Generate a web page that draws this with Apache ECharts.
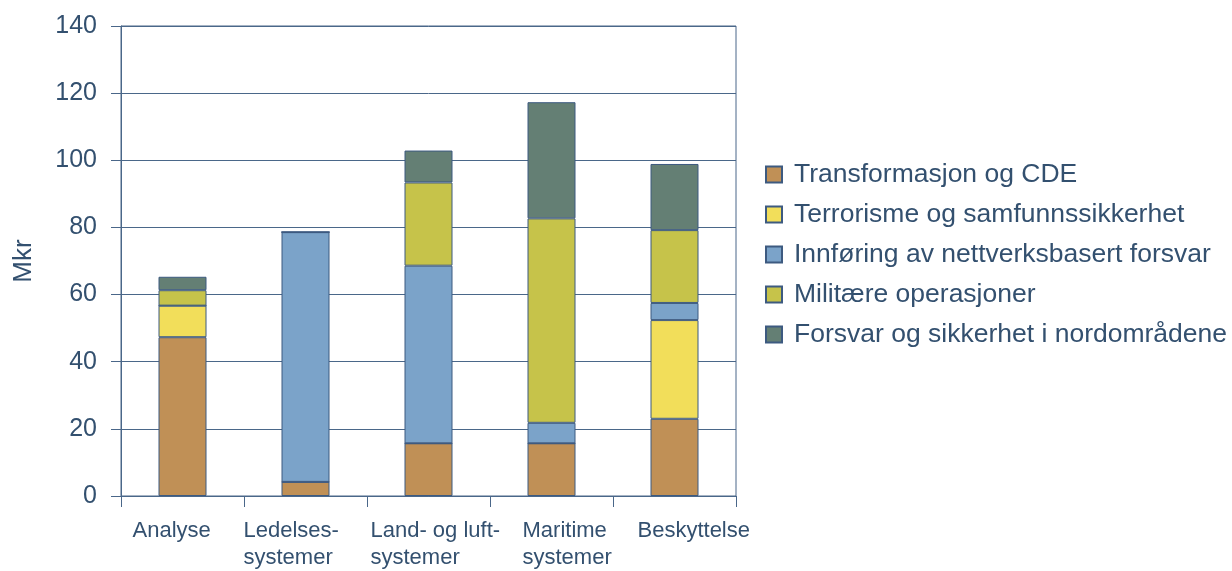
<!DOCTYPE html>
<html>
<head>
<meta charset="utf-8">
<script src="https://cdn.jsdelivr.net/npm/echarts@6/dist/echarts.min.js"></script>
<style>
  html, body { margin: 0; padding: 0; background: #ffffff; }
  #chart { width: 1232px; height: 571px; }
</style>
</head>
<body>
<div id="chart"></div>
<script>
// Categories (x axis) and stacked segment values, in Mkr
const categories = ['Analyse', 'Ledelses-\nsystemer', 'Land- og luft-\nsystemer', 'Maritime\nsystemer', 'Beskyttelse'];
const seriesNames = [
  'Transformasjon og CDE',
  'Terrorisme og samfunnssikkerhet',
  'Innføring av nettverksbasert forsvar',
  'Militære operasjoner',
  'Forsvar og sikkerhet i nordområdene'
];
const transformasjon = [47.3, 4.2, 15.7, 15.7, 23.0];
const terrorisme     = [9.4, 0, 0, 0, 29.4];
const innforing      = [0, 74.4, 52.9, 6.1, 5.1];
const militaere      = [4.6, 0, 24.8, 60.9, 21.7];
const nordomradene   = [4.0, 0, 9.5, 34.6, 19.7];
const yTicks = [0, 20, 40, 60, 80, 100, 120, 140];

const seriesValues = [transformasjon, terrorisme, innforing, militaere, nordomradene];
const colors = ['#C09056', '#F2DE5A', '#7BA3C9', '#C6C34A', '#647F74'];
const ink = '#33506F';
const lineColor = '#4A6789';
const font = 'Liberation Sans, Arial, sans-serif';
const labelFontSize = 22;

// Where each wrapped category label starts, measured from its category centre (px)
const labelStart = [-50, -62, -58, -29, -37];

// Build rich-text spacers so that every label is a left-aligned block placed at labelStart
const measureCtx = document.createElement('canvas').getContext('2d');
measureCtx.font = labelFontSize + 'px ' + font;
const rich = {
  t: { fontSize: labelFontSize, lineHeight: 27, color: ink, fontFamily: font }
};
const labelTemplates = categories.map((cat, i) => {
  const lines = cat.split('\n');
  const widths = lines.map(l => measureCtx.measureText(l).width);
  const maxW = Math.max.apply(null, widths);
  const d = labelStart[i] + maxW / 2;
  const lead = d > 0 ? 2 * d : 0;
  const trail = d < 0 ? -2 * d : 0;
  return lines.map((line, j) => {
    const key = 'c' + i + '_' + j;
    rich[key + 'l'] = { width: Math.max(lead, 0.01), height: 1 };
    rich[key + 'r'] = { width: Math.max(trail + (maxW - widths[j]), 0.01), height: 1 };
    return '{' + key + 'l|}{t|' + line + '}{' + key + 'r|}';
  }).join('\n');
});

const chart = echarts.init(document.getElementById('chart'), null, { renderer: 'canvas' });

chart.setOption({
  animation: false,
  backgroundColor: '#ffffff',
  grid: {
    left: 121, right: 496, top: 26, bottom: 75,
    show: true, borderColor: lineColor, borderWidth: 1, backgroundColor: 'transparent'
  },
  legend: {
    orient: 'vertical',
    left: 765,
    top: 161,
    padding: 0,
    itemWidth: 16,
    itemHeight: 16,
    itemGap: 13,
    icon: 'rect',
    data: seriesNames,
    textStyle: { fontSize: 26.5, lineHeight: 26, color: ink, fontFamily: font, padding: [0, 0, 0, 7] }
  },
  xAxis: {
    type: 'category',
    data: categories,
    boundaryGap: true,
    axisLine: { show: true, lineStyle: { color: lineColor, width: 1 } },
    axisTick: { show: true, length: 11, alignWithLabel: false, lineStyle: { color: lineColor } },
    axisLabel: {
      interval: 0,
      margin: 21,
      fontFamily: font,
      formatter: function (value, idx) { return labelTemplates[idx]; },
      rich: rich
    }
  },
  yAxis: {
    type: 'value',
    min: yTicks[0],
    max: yTicks[yTicks.length - 1],
    interval: yTicks[1] - yTicks[0],
    name: 'Mkr',
    nameLocation: 'middle',
    nameRotate: 90,
    nameGap: 84,
    nameTextStyle: { fontSize: 26, color: ink, fontFamily: font },
    axisLine: { show: true, lineStyle: { color: lineColor, width: 1 } },
    axisTick: { show: true, length: 10, lineStyle: { color: lineColor } },
    axisLabel: { margin: 24, fontSize: 25, color: ink, fontFamily: font },
    splitLine: { show: true, lineStyle: { color: lineColor, width: 1 } }
  },
  series: seriesNames.map((name, i) => ({
    name: name,
    type: 'bar',
    stack: 'total',
    barWidth: 48,
    data: seriesValues[i],
    itemStyle: { color: colors[i], borderColor: '#3D5A80', borderWidth: 1 }
  }))
});
</script>
</body>
</html>
